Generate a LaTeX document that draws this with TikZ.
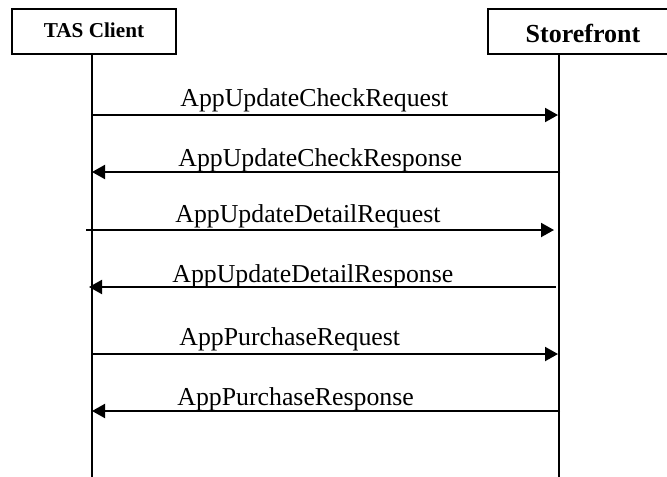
\documentclass[tikz,border=0pt]{standalone}
\usepackage{fontspec}
\setmainfont{Liberation Serif}
\usetikzlibrary{arrows.meta}
\begin{document}
\begin{tikzpicture}[x=0.5pt,y=-0.5pt,
  actor/.style={draw,line width=1pt},
  life/.style={line width=1pt},
  msg/.style={line width=1pt,-{Triangle[length=6.5pt,width=7pt]}},
  lbl/.style={anchor=base west,inner sep=0pt,font=\fontsize{12.9pt}{14pt}\selectfont},
  hdr/.style={anchor=base,inner sep=0pt}]
\useasboundingbox (0,0) rectangle (667,476);
\clip (0,0) rectangle (667,476);
% actors
\draw[actor] (12,9) rectangle (176,54);
\node[hdr,font=\fontsize{10.6pt}{12pt}\selectfont\bfseries] (tas) at (94,38) {TAS Client};
\draw[actor] (488,9) rectangle (700,54);
\node[hdr,font=\fontsize{13pt}{15pt}\selectfont\bfseries] (sf) at (583,43) {Storefront};
% lifelines
\coordinate (tastop) at (92,54);
\coordinate (tasbot) at (92,478);
\coordinate (sftop) at (559,54);
\coordinate (sfbot) at (559,478);
\draw[life] (tastop) -- (tasbot);
\draw[life] (sftop) -- (sfbot);
% message endpoints
\coordinate (a1) at (92,115);  \coordinate (b1) at (558,115);
\coordinate (a2) at (560,172); \coordinate (b2) at (92,172);
\coordinate (a3) at (86,230);  \coordinate (b3) at (554,230);
\coordinate (a4) at (556,287); \coordinate (b4) at (89,287);
\coordinate (a5) at (92,354);  \coordinate (b5) at (558,354);
\coordinate (a6) at (560,411); \coordinate (b6) at (92,411);
\draw[msg] (a1) -- (b1);
\draw[msg] (a2) -- (b2);
\draw[msg] (a3) -- (b3);
\draw[msg] (a4) -- (b4);
\draw[msg] (a5) -- (b5);
\draw[msg] (a6) -- (b6);
% labels
\node[lbl] (m1) at (180,106) {AppUpdateCheckRequest};
\node[lbl] (m2) at (178,166) {AppUpdateCheckResponse};
\node[lbl] (m3) at (175,222) {AppUpdateDetailRequest};
\node[lbl] (m4) at (172,282) {AppUpdateDetailResponse};
\node[lbl] (m5) at (179,345) {AppPurchaseRequest};
\node[lbl] (m6) at (177,405) {AppPurchaseResponse};
\end{tikzpicture}
\end{document}
